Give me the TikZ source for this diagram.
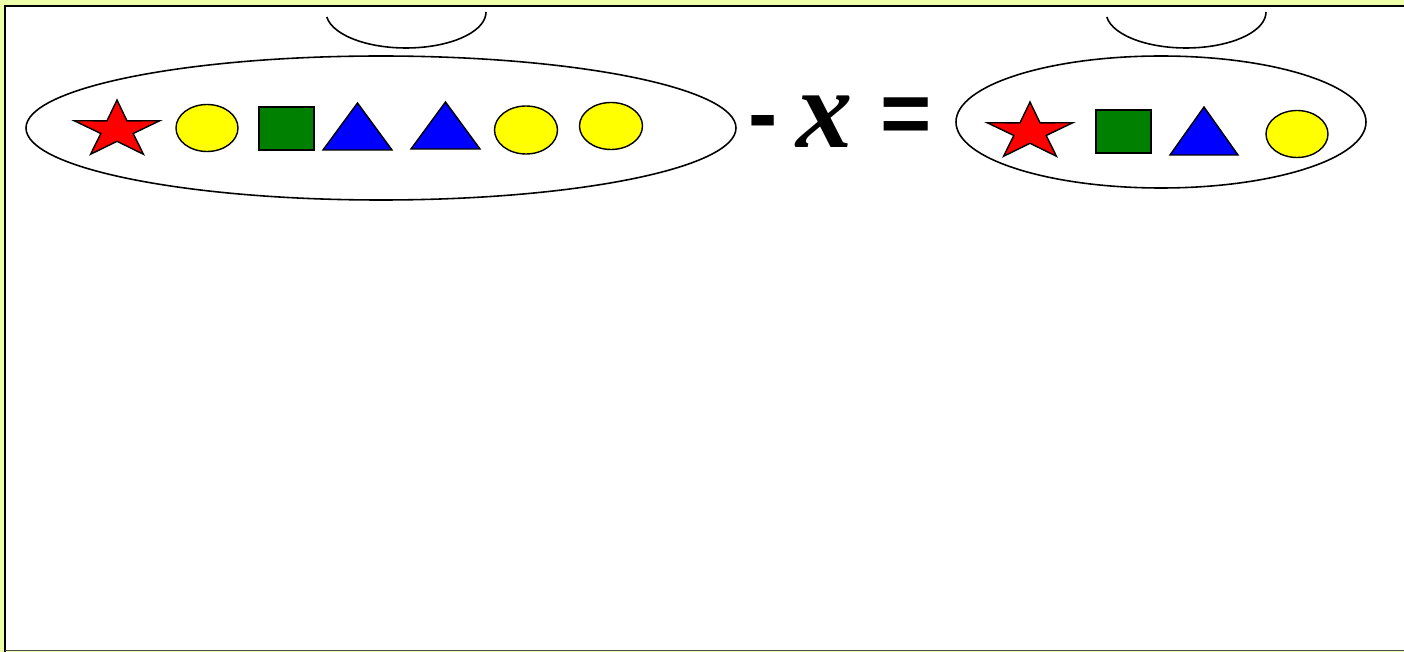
\documentclass[tikz,border=0pt]{standalone}
\usepackage{fontspec}
\setmainfont{Liberation Serif}
\setsansfont{Liberation Sans}
\usepackage{tikz}
\usetikzlibrary{calc}
\definecolor{paleyellow}{RGB}{238,255,170}
\definecolor{shpred}{RGB}{255,0,0}
\definecolor{shpyellow}{RGB}{255,255,0}
\definecolor{shpgreen}{RGB}{0,128,0}
\definecolor{shpblue}{RGB}{0,0,255}

% star: centre x, centre y
\newcommand{\redstar}[2]{%
  \draw[starshp] ([shift={(#1,#2)}]-90:45 and 30)
    \foreach \i in {0,...,4} {
      -- ([shift={(#1,#2)}]-54+72*\i:17 and 11.3)
      -- ([shift={(#1,#2)}]-18+72*\i:45 and 30)} -- cycle;}
% triangle: left x, right x, base y, apex y
\newcommand{\bluetri}[4]{%
  \draw[trishp] (#1,#3) -- ({(#1+#2)/2},#4) -- (#2,#3) -- cycle;}

\begin{document}
\begin{tikzpicture}[x=0.2mm, y=-0.2mm,
  outline/.style={draw=black, line width=0.8pt},
  starshp/.style={outline, fill=shpred, line join=miter},
  trishp/.style={outline, fill=shpblue, line join=miter},
  sqshp/.style={outline, fill=shpgreen},
  dotshp/.style={outline, fill=shpyellow},
  group/.style={draw=black, line width=0.9pt},
  opsym/.style={font=\sffamily\bfseries\fontsize{50}{50}\selectfont, inner sep=0pt},
]
  \useasboundingbox (0,0) rectangle (1404,652);
  \fill[paleyellow] (0,0) rectangle (1404,652);
  \fill[white] (5,6) rectangle (1404,650);
  \draw[black, line width=1.4pt] (5,652) -- (5,6) -- (1404,6);
  \draw[black!70, line width=0.8pt] (5,650.5) -- (1404,650.5);

  % cups on top
  \draw[group] (326.8,17) arc[start angle=172, end angle=0, x radius=80, y radius=36];
  \draw[group] (1106.8,17) arc[start angle=172, end angle=0, x radius=80, y radius=36];

  % left set
  \draw[group] (381,128) ellipse (355 and 72);
  \redstar{117}{130}
  \draw[dotshp] (207,128) ellipse (31 and 23.5);
  \draw[sqshp] (259,107) rectangle (314,150);
  \bluetri{323}{392}{150}{103}
  \bluetri{411}{480}{149}{102}
  \draw[dotshp] (526,130) ellipse (31.5 and 24);
  \draw[dotshp] (611,126) ellipse (31.5 and 23.5);

  % operators
  \node[opsym] (minus) at (763,129) {-};
  \node[font=\bfseries\itshape\fontsize{64}{64}\selectfont, inner sep=0pt] (unk) at (825,122) {x};
  \node[opsym] (eq) at (906,121) {=};

  % right set
  \draw[group] (1161,122) ellipse (205 and 66);
  \redstar{1030}{132}
  \draw[sqshp] (1096,110) rectangle (1151,153);
  \bluetri{1170}{1238}{155}{107}
  \draw[dotshp] (1297,134) ellipse (31 and 23.5);
\end{tikzpicture}
\end{document}
